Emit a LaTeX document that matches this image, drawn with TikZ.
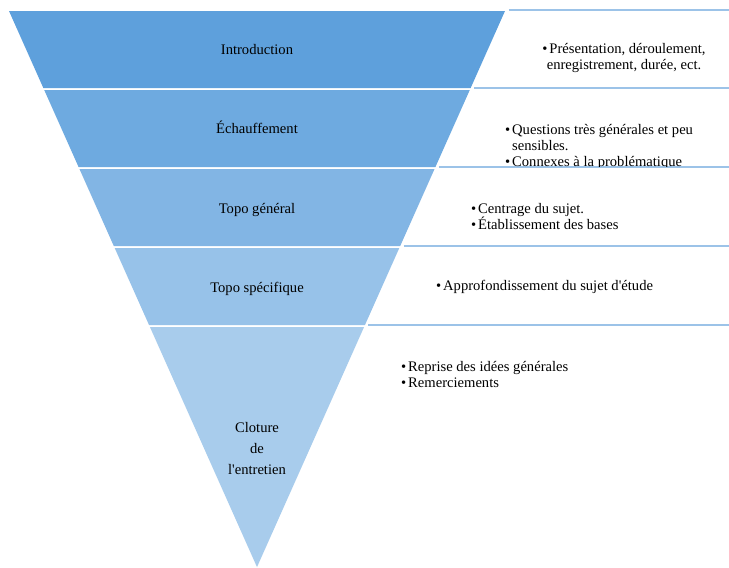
\documentclass[tikz,border=0pt]{standalone}
\usepackage{fontspec}
\setmainfont{Liberation Serif}

% band colours, darkest on top
\definecolor{bandA}{HTML}{5EA0DC}
\definecolor{bandB}{HTML}{6EAAE0}
\definecolor{bandC}{HTML}{82B5E4}
\definecolor{bandD}{HTML}{97C2E9}
\definecolor{bandE}{HTML}{A8CCEC}
\definecolor{rulecol}{HTML}{9CC3E8}

\newcommand{\puce}{\makebox[7pt][l]{\textbullet}}
\newcommand{\suite}{\hspace*{7pt}}

\begin{document}
\begin{tikzpicture}[x=1pt,y=-1pt,
    stage/.style={font=\fontsize{14.6}{21}\selectfont, align=center, inner sep=0pt, anchor=base},
    notes/.style={font=\fontsize{14.6}{16}\selectfont, align=left, inner sep=0pt, anchor=base west},
    rule/.style={draw=rulecol, line width=1.8pt}]

\useasboundingbox[fill=white] (0,0) rectangle (729,568);

% Funnel bands (edges run from the top corners down to the tip)
\foreach \ytop/\ybot/\shade in {11/88/bandA, 90/167/bandB, 169/246/bandC, 248/325/bandD, 327/567/bandE}{
    \pgfmathsetmacro{\xtl}{9+(\ytop-11)*0.446}
    \pgfmathsetmacro{\xtr}{505-(\ytop-11)*0.446}
    \pgfmathsetmacro{\xbl}{9+(\ybot-11)*0.446}
    \pgfmathsetmacro{\xbr}{505-(\ybot-11)*0.446}
    \fill[fill=\shade] (\xtl,\ytop) -- (\xtr,\ytop) -- (\xbr,\ybot) -- (\xbl,\ybot) -- cycle;
}

% Stage names (multi-line nodes sit on their last line)
\node[stage] (intro) at (257,54) {Introduction};
\node[stage] (warmup) at (257,133) {Échauffement};
\node[stage] (general) at (257,213) {Topo général};
\node[stage] (specific) at (257,292) {Topo spécifique};
\node[stage] (closing) at (257,474) {Cloture\\de\\l\textquotesingle entretien};

% Rules above each notes box
\foreach \ytop in {10, 88, 167, 246, 325}{
    \pgfmathsetmacro{\xs}{505-(\ytop-11)*0.446+3.5}
    \draw[rule] (\xs,\ytop) -- (729,\ytop);
}

% Notes
\node[notes, align=center, anchor=base] (intro-notes) at (624,69)
    {\puce Présentation, déroulement,\\enregistrement, durée, ect.};
\begin{scope}
    \clip (470,89) rectangle (729,166);
    \node[notes] (warmup-notes) at (505,166)
        {\puce Questions très générales et peu\\\suite sensibles.\\\puce Connexes à la problématique};
\end{scope}
\node[notes] (general-notes) at (471,229)
    {\puce Centrage du sujet.\\\puce Établissement des bases};
\node[notes] (specific-notes) at (436,290)
    {\puce Approfondissement du sujet d\textquotesingle étude};
\node[notes] (closing-notes) at (401,387)
    {\puce Reprise des idées générales\\\puce Remerciements};

\end{tikzpicture}
\end{document}
